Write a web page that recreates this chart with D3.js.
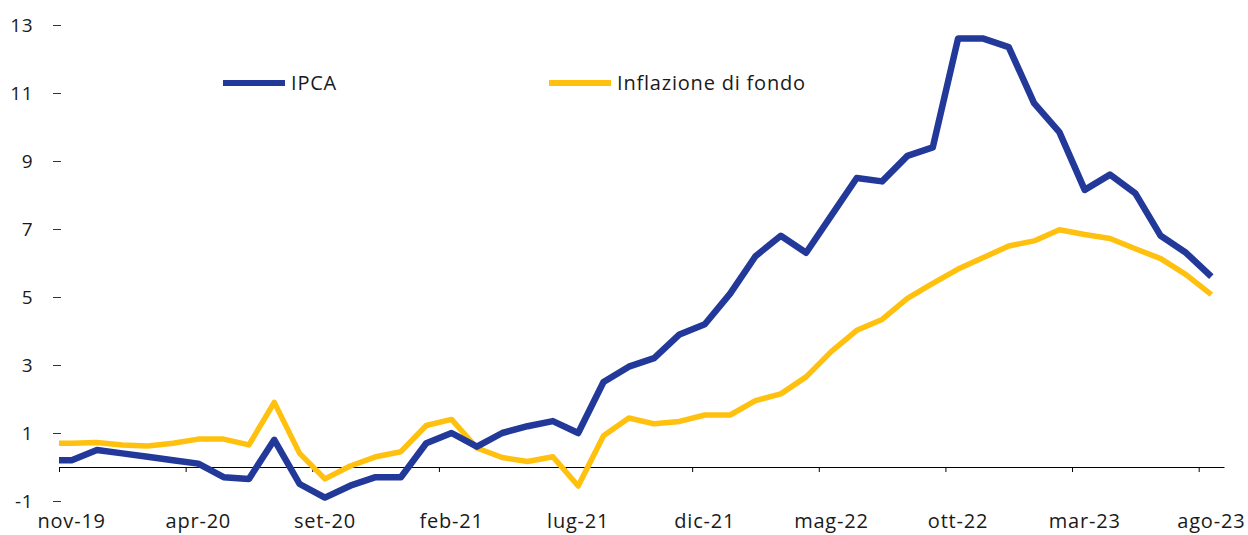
<!DOCTYPE html>
<html>
<head>
<meta charset="utf-8">
<script src="https://cdn.jsdelivr.net/npm/d3@7"></script>
<style>
  html, body { margin: 0; padding: 0; background: #fff; }
  svg text { font-family: "Open Sans", sans-serif; fill: #1a1a1a; }
</style>
</head>
<body>
<div id="chart"></div>
<script>
// months (first one only lies outside the plot and is clipped away)
const months = [
  'ott-19', 'nov-19', 'dic-19', 'gen-20', 'feb-20', 'mar-20', 'apr-20', 'mag-20', 'giu-20', 'lug-20', 'ago-20',
  'set-20', 'ott-20', 'nov-20', 'dic-20', 'gen-21', 'feb-21', 'mar-21', 'apr-21', 'mag-21', 'giu-21',
  'lug-21', 'ago-21', 'set-21', 'ott-21', 'nov-21', 'dic-21', 'gen-22', 'feb-22', 'mar-22', 'apr-22',
  'mag-22', 'giu-22', 'lug-22', 'ago-22', 'set-22', 'ott-22', 'nov-22', 'dic-22', 'gen-23', 'feb-23',
  'mar-23', 'apr-23', 'mag-23', 'giu-23', 'lug-23', 'ago-23'
];
const ipca = [
  0.2, 0.2, 0.5, 0.4, 0.3, 0.2, 0.1, -0.3, -0.35, 0.8, -0.5,
  -0.9, -0.55, -0.3, -0.3, 0.7, 1.0, 0.6, 1.0, 1.2, 1.35,
  1.0, 2.5, 2.95, 3.2, 3.9, 4.2, 5.1, 6.2, 6.8, 6.3,
  7.4, 8.5, 8.4, 9.15, 9.4, 12.6, 12.6, 12.35, 10.7, 9.85,
  8.15, 8.6, 8.05, 6.8, 6.3, 5.6
];
const fondo = [
  0.7, 0.7, 0.72, 0.65, 0.62, 0.7, 0.82, 0.82, 0.65, 1.9, 0.4,
  -0.35, 0.03, 0.3, 0.45, 1.22, 1.4, 0.56, 0.28, 0.16, 0.3,
  -0.56, 0.92, 1.44, 1.27, 1.34, 1.53, 1.53, 1.95, 2.15, 2.65,
  3.4, 4.02, 4.34, 4.96, 5.4, 5.82, 6.16, 6.5, 6.65, 6.98,
  6.84, 6.72, 6.42, 6.13, 5.66, 5.07
];
const yTicks = [-1, 1, 3, 5, 7, 9, 11, 13];
const seriesNames = ['IPCA', 'Inflazione di fondo'];
const seriesColors = ['#22399a', '#ffc10e'];

const width = 1248, height = 535;
const plot = { left: 59, right: 1224, top: 25, bottom: 501 };

const svg = d3.select('#chart').append('svg')
  .attr('width', width)
  .attr('height', height);

// category axis: month i sits at the middle of its slot, slot borders at i +/- 0.5
const x = d3.scaleLinear().domain([0.5, months.length - 0.5]).range([plot.left, plot.right]);
const y = d3.scaleLinear().domain([-1, 13]).range([plot.bottom, plot.top]);

svg.append('defs').append('clipPath').attr('id', 'plot-clip')
  .append('rect')
  .attr('x', plot.left).attr('y', 0)
  .attr('width', plot.right - plot.left).attr('height', height);

// y axis: labels and short dashes, no axis line
const yAxis = svg.append('g')
  .attr('transform', `translate(${plot.left + 2},0)`)
  .call(d3.axisLeft(y).tickValues(yTicks).tickSize(8).tickPadding(20).tickFormat(d => String(d)));
yAxis.select('.domain').remove();
yAxis.selectAll('.tick line').attr('stroke', '#333').attr('stroke-width', 1);
yAxis.selectAll('.tick text').style('font-size', '19px').style('letter-spacing', '0.5px').attr('fill', '#1a1a1a');

// zero line with ticks on every fifth slot border
const borderTicks = d3.range(0.5, months.length, 5);
const xAxis = svg.append('g')
  .attr('transform', `translate(0,${y(0)})`)
  .call(d3.axisBottom(x).tickValues(borderTicks).tickSize(5).tickSizeOuter(0).tickFormat(''));
xAxis.select('.domain').attr('stroke', '#000').attr('stroke-width', 1.2);
xAxis.selectAll('.tick line').attr('stroke', '#000');

// month labels centered on the month
const labelIdx = d3.range(1, months.length, 5);
svg.append('g').selectAll('text')
  .data(labelIdx)
  .enter()
  .append('text')
  .attr('x', d => x(d))
  .attr('y', 528)
  .attr('text-anchor', 'middle')
  .style('font-size', '20px')
  .style('letter-spacing', '0.8px')
  .text(d => months[d]);

// lines
const line = d3.line()
  .x((d, i) => x(i))
  .y(d => y(d));

const lines = svg.append('g').attr('clip-path', 'url(#plot-clip)');
lines.append('path')
  .datum(fondo)
  .attr('fill', 'none')
  .attr('stroke', seriesColors[1])
  .attr('stroke-width', 5.5)
  .attr('stroke-linejoin', 'round')
  .attr('d', line);
lines.append('path')
  .datum(ipca)
  .attr('fill', 'none')
  .attr('stroke', seriesColors[0])
  .attr('stroke-width', 6.5)
  .attr('stroke-linejoin', 'round')
  .attr('d', line);

// legend
const legendPos = [{ x: 223, y: 83 }, { x: 549, y: 83 }];
const legend = svg.append('g').selectAll('g')
  .data(seriesNames)
  .enter()
  .append('g')
  .attr('transform', (d, i) => `translate(${legendPos[i].x},${legendPos[i].y})`);
legend.append('line')
  .attr('x1', 0).attr('x2', 62)
  .attr('stroke', (d, i) => seriesColors[i])
  .attr('stroke-width', 6);
legend.append('text')
  .attr('x', 68)
  .attr('dy', '0.35em')
  .style('font-size', '20px')
  .style('letter-spacing', '0.8px')
  .text(d => d);
</script>
</body>
</html>
